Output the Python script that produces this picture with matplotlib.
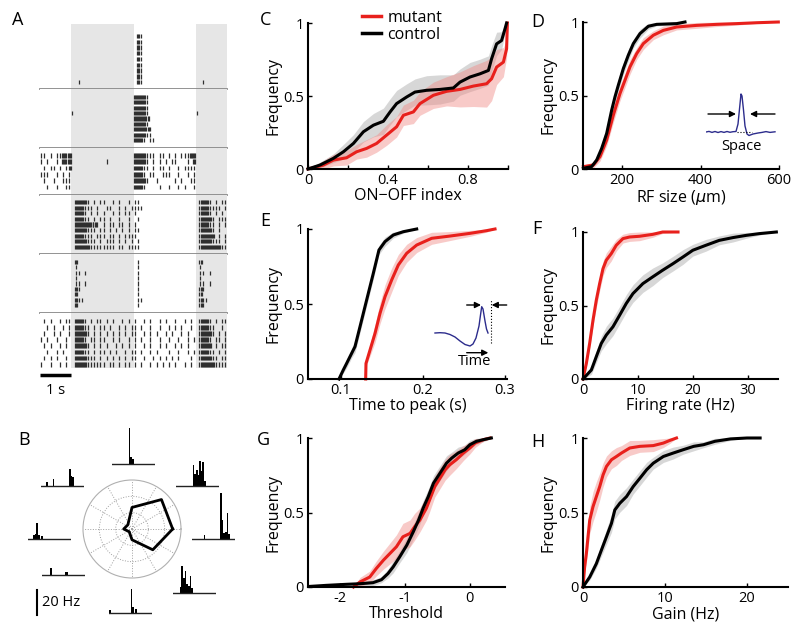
import numpy as np
import matplotlib
matplotlib.use('Agg')
import matplotlib.pyplot as plt
from matplotlib.lines import Line2D

plt.rcParams['font.family'] = ['Open Sans', 'DejaVu Sans']

W, H = 800, 637
ROJO = '#e8201c'
ROJO_BANDA = '#f08a86'
GRIS_BANDA = '#a8a8a8'

# ---------------- Panel A: rasters (bins de 0.1 s, '|' = 1 spike, '#' = ráfaga) ----------------
celda1 = [
    ".......... .......... .......... .#|....... .......... ..........",
    ".......... .......... .......... .#|....... .......... ..........",
    ".......... .......... .......... .#|....... .......... ..........",
    ".......... .......... .......... .#|....... .......... ..........",
    ".......... .......... .......... .#|....... .......... ..........",
    ".......... .......... .......... .#|....... .......... ..........",
    ".......... .......... .......... .#|....... .......... ..........",
    ".......... .......... .......... .#|....... .......... ..........",
    ".......... ..|....... .......... .#|....... .......... ..|.......",
]
celda2 = [
    ".......... .......... .......... ####|..... .......... ..........",
    ".......... .......... .......... ####|..... .......... ..........",
    ".......... .......... .......... ####|..... .......... ..........",
    ".......... |......... .......... ####|..... .......... |.........",
    ".......... .......... .......... #####..... .......... ..........",
    ".......... .......... .......... ####|..... .......... ..........",
    ".......... .......... .......... #####|.... .......... ..........",
    ".......... .......... .......... ####||.... .......... ..........",
    ".......... .......... .......... ###|.||... .......... ..........",
]
celda3 = [
    "||.|.||### .......... .......... ####|||.|| .|.|.|||## ..........",
    "|.|..|.### .......... .|........ ####|.|.|. |.||...|.# ..........",
    ".|.||.|.|# .......... .......... ###||.|.|| .|..|.|||| ..........",
    "|||..|.|.| .......... .......... ###|.||..| ||..|..|.| ..........",
    ".|..|..||| .......... .......... ####|..|.. ...|.|..|| ..........",
    "..|..|..|| .......... .......... ###|....|. .|..|.|..| ..........",
]
celda4 = [
    ".......... .####|.|.| |..|.|..|. ||........ .......... .###|.|.||",
    ".......... .###|||.|. .||..|.|.| |||....... .......... .###||||.|",
    ".......... .###|.|.|. |..|.|.||. |......... .......... .###|.|.|.",
    ".......... .###||.|.| |.|..|..|. .|........ .......... .####|.|||",
    ".......... .#######|. |.||.||.|. |......... .......... .###||.|.|",
    ".......... .####|||.| |.|.|.|.|. ||........ .......... .####|.|..",
    ".......... .###|||.|| |.||.|.||| |......... .......... .#####.|.|",
    ".......... .####|||.| .|||.|.|.| .|........ .......... .####|||.|",
    ".......... .#####|||| ||||.||.|| ||........ .......... .#######||",
]
celda5 = [
    ".......... .#........ .......... .|........ .......... .#........",
    ".......... .|........ .......... .|........ .......... .|........",
    ".......... .||.|..... .......... .|........ .......... .||.|.....",
    ".......... .|........ .......... .|........ .......... .|........",
    ".......... .||.|..... .......... .|........ .......... .||.|.....",
    ".......... .#|....... .......... .|........ .......... .#|.......",
    ".......... .#........ .......... .|........ .......... .#........",
    ".......... .#||...... .......... .||....... .......... .#||......",
    ".......... .#........ .......... .|........ .......... .#|.......",
]
celda6 = [
    ".|.|..|.|| .###|.|.|| .|.|..|.|. |..|.|..|. |..|..|.|. .###|.|.||",
    "..|.|..|.| .###||.|.| |.|..|.|.| |.|..|..|. .|.|.|..|. .###||..|.",
    ".|..|.|..| .####|.|.| .|.|.|.|.| |..|.|.|.. |.|..|.|.. .####|.|.|",
    "|.|..|..|. .###|.||.| |..|.|..|. |.|..|..|. .|..|..|.| .###|.||.|",
    ".|.|..|.|. .####|.|.| .|..|.|.|. |..|.|..|. |..|.|.|.. .####.|.||",
    "..|..|.|.. .###||.|.| |.|.|..|.| |.|..|.|.. .|..|..|.| .###||.|.|",
    ".|.|.|..|. .####|||.| .|.|.|.|.| |..|..|.|. |.|.|...|. .####||.||",
    "|..|..|.|. .####||||| |.||.|.||. |.|..|.|.| .|.|..|.|. .#####||||",
]
celdas = [celda1, celda2, celda3, celda4, celda5, celda6]
estimulo_on = [(1.0, 3.0), (5.0, 6.0)]

# ---------------- Panel B: curva de dirección y PSTH ----------------
dir_angulos = [0, 45, 90, 135, 180, 225, 270, 315]
dir_resp = [0.83, 0.85, 0.44, 0.12, 0.17, 0.08, 0.22, 0.60]

def _psth(picos):
    v = [0.0] * 26
    for k, h in picos.items():
        v[k] = h
    return v

psth_N = _psth({10: 29, 11: 6, 12: 4})
psth_NE = _psth({10: 17, 11: 10, 12: 13, 13: 9, 14: 20, 15: 12, 16: 19, 17: 4})
psth_E = _psth({7: 3, 17: 37, 18: 15, 19: 5, 20: 6, 21: 21, 22: 4})
psth_SE = _psth({4: 5, 5: 22, 6: 12, 7: 18, 8: 7, 9: 6, 10: 14, 11: 4})
psth_S = _psth({0: 2.5, 13: 19, 14: 5, 16: 3})
psth_SW = _psth({5: 5.5, 14: 2.7, 15: 2.7})
psth_W = _psth({3: 3.5, 4: 4, 5: 13, 6: 3.5, 8: 2.7})
psth_NW = _psth({3: 3.5, 7: 6, 17: 14, 18: 8, 19: 7})

# ---------------- Paneles C-H: distribuciones acumuladas ----------------
c_ctrl_x = [0, 0.06, 0.127, 0.177, 0.227, 0.277, 0.327, 0.377, 0.41, 0.443, 0.493, 0.535,
            0.593, 0.66, 0.727, 0.76, 0.81, 0.86, 0.902, 0.918, 0.943, 0.968, 0.985, 0.993]
c_ctrl_y = [0, 0.027, 0.073, 0.118, 0.175, 0.255, 0.3, 0.327, 0.39, 0.448, 0.493, 0.527,
            0.539, 0.545, 0.555, 0.595, 0.63, 0.652, 0.675, 0.755, 0.857, 0.88, 0.96, 1.0]
c_ctrl_e = [0, 0.02, 0.03, 0.05, 0.06, 0.07, 0.08, 0.09, 0.09, 0.09, 0.09, 0.09,
            0.1, 0.1, 0.09, 0.09, 0.1, 0.1, 0.1, 0.09, 0.08, 0.06, 0.03, 0]
c_mut_x = [0, 0.077, 0.127, 0.193, 0.243, 0.293, 0.343, 0.393, 0.443, 0.477, 0.527, 0.56,
           0.627, 0.693, 0.76, 0.827, 0.893, 0.918, 0.943, 0.977, 0.993, 0.997]
c_mut_y = [0, 0.027, 0.061, 0.077, 0.118, 0.141, 0.175, 0.232, 0.289, 0.368, 0.391, 0.448,
           0.505, 0.532, 0.545, 0.568, 0.584, 0.618, 0.698, 0.732, 0.823, 1.0]
c_mut_e = [0, 0.03, 0.04, 0.05, 0.05, 0.06, 0.06, 0.07, 0.07, 0.07, 0.08, 0.08,
           0.09, 0.1, 0.12, 0.14, 0.16, 0.15, 0.12, 0.1, 0.06, 0]

d_ctrl_x = [100.9, 122, 134.9, 147.6, 160.4, 173.1, 181.6, 190.1, 202.9, 215.6, 228.4,
            245.4, 266.7, 287.9, 339, 360.2]
d_ctrl_y = [0.005, 0.016, 0.061, 0.14, 0.242, 0.4, 0.491, 0.57, 0.683, 0.774, 0.853,
            0.921, 0.971, 0.984, 0.989, 1.0]
d_ctrl_e = [0, 0.01, 0.02, 0.03, 0.04, 0.04, 0.04, 0.04, 0.04, 0.04, 0.03, 0.03, 0.02, 0.01, 0.01, 0]
d_mut_x = [100.9, 126.4, 143.4, 160.4, 177.4, 194.4, 207.1, 219.9, 236.9, 253.9, 279.4,
           304.9, 338.9, 390, 441, 492, 543, 598.3]
d_mut_y = [0.016, 0.027, 0.084, 0.197, 0.367, 0.514, 0.604, 0.695, 0.785, 0.853, 0.91,
           0.943, 0.966, 0.977, 0.984, 0.989, 0.995, 1.0]
d_mut_e = [0.01, 0.02, 0.03, 0.04, 0.05, 0.05, 0.05, 0.05, 0.04, 0.04, 0.03, 0.03, 0.02,
           0.02, 0.015, 0.01, 0.005, 0]

e_ctrl_x = [0.0976, 0.1028, 0.1069, 0.113, 0.1171, 0.1232, 0.1313, 0.1394, 0.1463,
            0.1537, 0.1638, 0.176, 0.1923]
e_ctrl_y = [0, 0.06, 0.104, 0.171, 0.216, 0.349, 0.527, 0.704, 0.86, 0.916, 0.96, 0.982, 1.0]
e_ctrl_e = [0, 0.02, 0.03, 0.03, 0.04, 0.04, 0.04, 0.04, 0.03, 0.03, 0.02, 0.01, 0]
e_mut_x = [0.1301, 0.1305, 0.1354, 0.1415, 0.1476, 0.1537, 0.1618, 0.1699, 0.1801,
           0.1923, 0.2106, 0.2329, 0.2573, 0.2776, 0.2878]
e_mut_y = [0, 0.104, 0.193, 0.304, 0.438, 0.549, 0.66, 0.76, 0.838, 0.893, 0.938,
           0.953, 0.971, 0.989, 1.0]
e_mut_e = [0, 0.02, 0.04, 0.06, 0.07, 0.08, 0.08, 0.07, 0.06, 0.05, 0.04, 0.03, 0.02, 0.01, 0]

f_mut_x = [0, 0.61, 1.21, 1.82, 2.42, 3.03, 3.64, 4.24, 5.15, 6.06, 7.27, 8.48, 10.3,
           12.7, 14.5, 17.3]
f_mut_y = [0, 0.106, 0.242, 0.4, 0.536, 0.649, 0.751, 0.808, 0.853, 0.91, 0.955, 0.966,
           0.971, 0.984, 1.0, 1.0]
f_mut_e = [0, 0.02, 0.03, 0.04, 0.05, 0.05, 0.05, 0.05, 0.05, 0.04, 0.03, 0.03, 0.03,
           0.02, 0.01, 0]
f_ctrl_x = [0, 1.52, 2.42, 3.33, 4.24, 5.45, 6.67, 7.88, 9.09, 10.9, 12.7, 14.5, 16.4,
            18.2, 20, 22.4, 24.8, 27.3, 29.7, 32.1, 35.2]
f_ctrl_y = [0, 0.061, 0.152, 0.242, 0.299, 0.355, 0.434, 0.514, 0.581, 0.649, 0.695,
            0.74, 0.785, 0.83, 0.876, 0.91, 0.943, 0.962, 0.977, 0.989, 1.0]
f_ctrl_e = [0, 0.03, 0.04, 0.05, 0.06, 0.06, 0.06, 0.06, 0.06, 0.06, 0.06, 0.05, 0.05,
            0.05, 0.04, 0.04, 0.03, 0.03, 0.02, 0.01, 0]

g_ctrl_x = [-2.46, -2.21, -1.9, -1.69, -1.49, -1.36, -1.26, -1.18, -1.08, -0.97, -0.87,
            -0.79, -0.72, -0.64, -0.56, -0.46, -0.36, -0.28, -0.18, -0.08, 0, 0.1, 0.26, 0.33]
g_ctrl_y = [0.004, 0.011, 0.018, 0.022, 0.029, 0.049, 0.09, 0.135, 0.202, 0.281, 0.371,
            0.449, 0.528, 0.607, 0.697, 0.764, 0.831, 0.865, 0.899, 0.921, 0.955, 0.978, 0.994, 1.0]
g_ctrl_e = [0, 0.01, 0.01, 0.01, 0.02, 0.02, 0.03, 0.04, 0.04, 0.05, 0.05, 0.05, 0.05,
            0.05, 0.05, 0.05, 0.05, 0.04, 0.04, 0.03, 0.03, 0.02, 0.01, 0]
g_mut_x = [-1.79, -1.69, -1.54, -1.44, -1.33, -1.23, -1.13, -1.03, -0.92, -0.85, -0.77,
           -0.67, -0.62, -0.54, -0.46, -0.38, -0.31, -0.21, -0.1, 0, 0.08, 0.21, 0.31]
g_mut_y = [0, 0.034, 0.067, 0.124, 0.18, 0.225, 0.27, 0.337, 0.36, 0.404, 0.449, 0.528,
           0.584, 0.674, 0.73, 0.787, 0.82, 0.854, 0.899, 0.933, 0.966, 0.989, 1.0]
g_mut_e = [0, 0.03, 0.04, 0.05, 0.06, 0.07, 0.08, 0.09, 0.09, 0.09, 0.08, 0.08, 0.08,
           0.07, 0.07, 0.07, 0.07, 0.06, 0.05, 0.04, 0.03, 0.01, 0]

h_mut_x = [0, 0.2, 0.41, 0.61, 0.82, 1.22, 1.63, 2.04, 2.45, 2.86, 3.47, 4.08, 4.69,
           5.71, 6.94, 8.57, 9.8, 10.6, 11.4]
h_mut_y = [0, 0.135, 0.225, 0.337, 0.449, 0.539, 0.607, 0.674, 0.753, 0.809, 0.854,
           0.876, 0.899, 0.933, 0.944, 0.949, 0.966, 0.984, 1.0]
h_mut_e = [0, 0.04, 0.06, 0.08, 0.09, 0.1, 0.1, 0.09, 0.08, 0.07, 0.06, 0.06, 0.05,
           0.05, 0.04, 0.04, 0.03, 0.02, 0]
h_ctrl_x = [0, 0.82, 1.63, 2.24, 2.86, 3.47, 3.88, 4.49, 5.31, 6.12, 6.94, 7.76, 8.57,
            9.8, 11.0, 12.2, 13.5, 14.7, 16.1, 18.0, 20.0, 21.6]
h_ctrl_y = [0, 0.067, 0.157, 0.247, 0.337, 0.427, 0.517, 0.562, 0.607, 0.674, 0.73,
            0.787, 0.831, 0.876, 0.899, 0.921, 0.944, 0.955, 0.978, 0.994, 1.0, 1.0]
h_ctrl_e = [0, 0.02, 0.03, 0.04, 0.05, 0.06, 0.06, 0.06, 0.06, 0.05, 0.05, 0.05, 0.04,
            0.04, 0.04, 0.03, 0.03, 0.02, 0.02, 0.01, 0, 0]

# Insets (perfil espacial y temporal del campo receptivo)
perfil_esp_x = [0, 3, 6, 9, 12, 15, 18, 21, 24, 27, 30, 32, 34, 35, 36, 37.5, 39, 41,
                43, 47, 52, 56, 60, 64, 69]
perfil_esp_y = [0, 0.6, -0.4, 0.5, -0.5, 0.4, -0.4, 0.5, -0.3, 0.3, 0.5, 8, 28, 38, 36,
                22, 6, -2, -3.5, -2, -1, -0.4, 0.4, -0.4, 0.2]
perfil_tmp_x = [0, 5, 10, 15, 20, 25, 30, 35, 38, 41, 44, 45.5, 46.7, 48, 50, 51.5, 53]
perfil_tmp_y = [0, 0.3, 0, -1.5, -4, -8, -11.5, -13, -11, -5, 7, 18, 26.3, 24, 12, 4, 0]

# ---------------- Figura ----------------
fig = plt.figure(figsize=(W / 100, H / 100), dpi=100)


def ejes_px(l, t, r, b, **kw):
    return fig.add_axes([l / W, 1 - b / H, (r - l) / W, (b - t) / H], **kw)


def texto_px(x, y, s, **kw):
    fig.text(x / W, 1 - y / H, s, **kw)


def a_tiempos(fila):
    fila = fila.replace(' ', '')
    t = []
    for i, c in enumerate(fila):
        if c == '|':
            t.append(i * 0.1 + 0.04)
        elif c == '#':
            t += [i * 0.1 + 0.015, i * 0.1 + 0.05, i * 0.1 + 0.085]
    return t


# Panel A
limites = [24, 89, 148, 195, 254, 313, 368]
pads = [(2.1, 1.2), (1.5, 1.5), (1.2, 1.3), (1.3, 1.3), (1.5, 1.5), (1.3, 0.6)]
for k, celda in enumerate(celdas):
    ax = ejes_px(40, limites[k], 227, limites[k + 1])
    for a, b in estimulo_on:
        ax.axvspan(a, b, color='#e6e6e6', lw=0, zorder=0)
    n = len(celda)
    ax.eventplot([a_tiempos(f) for f in celda], lineoffsets=np.arange(n)[::-1],
                 linelengths=0.75, linewidths=0.9, colors='#2f2f2f')
    ax.set_xlim(0, 6)
    ax.set_ylim(-pads[k][1], n - 1 + pads[k][0])
    ax.set_xticks([])
    ax.set_yticks([])
    for s in ax.spines.values():
        s.set_visible(False)
    if k < 5:
        ax.spines['bottom'].set_visible(True)
        ax.spines['bottom'].set_color('#8a8a8a')
        ax.spines['bottom'].set_linewidth(1.3)

ax = ejes_px(40, 368, 227, 400)
ax.set_xlim(0, 6)
ax.set_ylim(0, 1)
ax.plot([0, 1], [0.78, 0.78], color='k', lw=2.5, solid_capstyle='butt')
ax.text(0.5, 0.3, '1 s', ha='center', va='center', fontsize=10.5)
ax.axis('off')

# Panel B
axp = ejes_px(83, 480, 181, 578, projection='polar')
th = np.deg2rad(dir_angulos + [dir_angulos[0]])
axp.plot(th, dir_resp + [dir_resp[0]], color='k', lw=2)
axp.set_ylim(0, 1)
axp.set_yticks([1 / 3, 2 / 3])
axp.set_yticklabels([])
axp.set_xticks(np.deg2rad(np.arange(0, 360, 30)))
axp.set_xticklabels([])
axp.grid(True, color='#a0a0a0', lw=0.7, ls=':')
axp.spines['polar'].set_color('#b0b0b0')
axp.spines['polar'].set_linewidth(0.8)

psths = [(psth_N, 112, 464), (psth_NE, 176, 486), (psth_E, 192, 539), (psth_SE, 173, 593),
         (psth_S, 109, 613), (psth_SW, 42, 575), (psth_W, 28, 539), (psth_NW, 41, 486)]
for valores, x0, base in psths:
    # 1.25 px por Hz; el eje va 2 px por debajo de la línea base
    ax = ejes_px(x0, base - 50, x0 + 43, base + 2)
    ax.bar(np.arange(len(valores)), valores, width=1.0, color='k', align='edge', lw=0)
    ax.axhline(0, color='#222222', lw=1)
    ax.set_xlim(0, len(valores))
    ax.set_ylim(-1.6, 40)
    ax.axis('off')

ax = ejes_px(30, 588, 90, 617)
ax.set_xlim(0, 60)
ax.set_ylim(0, 29)
ax.plot([7, 7], [2, 27], color='k', lw=1.5)
ax.text(12, 14, '20 Hz', va='center', ha='left', fontsize=10.5)
ax.axis('off')

# Paneles C-H
def panel_cdf(caja, xlim, xticks, xlabels, xlabel, mut, ctrl):
    ax = ejes_px(*caja)
    for (x, y, e), col, cb in [(ctrl, 'k', GRIS_BANDA), (mut, ROJO, ROJO_BANDA)]:
        x, y, e = np.array(x), np.array(y), np.array(e)
        ax.fill_between(x, np.clip(y - e, 0, 1), np.clip(y + e, 0, 1), color=cb,
                        alpha=0.45, lw=0, clip_on=False)
    ax.plot(mut[0], mut[1], color=ROJO, lw=2.2, clip_on=False)
    ax.plot(ctrl[0], ctrl[1], color='k', lw=2.2, clip_on=False)
    ax.set_xlim(*xlim)
    ax.set_ylim(0, 1)
    ax.set_xticks(xticks)
    ax.set_xticklabels(xlabels)
    ax.set_yticks([0, 0.5, 1])
    ax.set_yticklabels(['0', '0.5', '1'])
    ax.tick_params(direction='in', length=3, width=1, labelsize=10.5, pad=3)
    for s in ['top', 'right']:
        ax.spines[s].set_visible(False)
    for s in ['left', 'bottom']:
        ax.spines[s].set_linewidth(1.5)
    ax.set_xlabel(xlabel, fontsize=11.5, labelpad=0)
    ax.set_ylabel('Frequency', fontsize=11.5, labelpad=1)
    return ax


axC = panel_cdf((308, 23, 508, 169), (0, 1.0), [0, 0.2, 0.4, 0.6, 0.8, 1.0],
                ['0', '', '0.4', '', '0.8', ''], 'ON\u2212OFF index',
                (c_mut_x, c_mut_y, c_mut_e), (c_ctrl_x, c_ctrl_y, c_ctrl_e))
axC.legend([Line2D([], [], color=ROJO, lw=2.5), Line2D([], [], color='k', lw=2.5)],
           ['mutant', 'control'], loc='upper left', bbox_to_anchor=(362 / W, 1 - 10 / H),
           bbox_transform=fig.transFigure, frameon=False, fontsize=11.5, handlelength=1.2,
           handletextpad=0.4, labelspacing=0.05, borderpad=0, borderaxespad=0)

axD = panel_cdf((583, 22, 779, 169), (100, 600), [200, 400, 600], ['200', '400', '600'],
                'RF size ($\\mu$m)', (d_mut_x, d_mut_y, d_mut_e), (d_ctrl_x, d_ctrl_y, d_ctrl_e))
axE = panel_cdf((308, 229, 507, 379), (0.0598, 0.3024), [0.1, 0.2, 0.3], ['0.1', '0.2', '0.3'],
                'Time to peak (s)', (e_mut_x, e_mut_y, e_mut_e), (e_ctrl_x, e_ctrl_y, e_ctrl_e))
axF = panel_cdf((583, 232, 778, 379), (0, 35.5), [0, 10, 20, 30], ['0', '10', '20', '30'],
                'Firing rate (Hz)', (f_mut_x, f_mut_y, f_mut_e), (f_ctrl_x, f_ctrl_y, f_ctrl_e))
axG = panel_cdf((308, 438, 505, 587), (-2.49, 0.54), [-2, -1, 0], ['-2', '-1', '0'],
                'Threshold', (g_mut_x, g_mut_y, g_mut_e), (g_ctrl_x, g_ctrl_y, g_ctrl_e))
axH = panel_cdf((583, 438, 788, 587), (0, 25), [0, 10, 20], ['0', '10', '20'],
                'Gain (Hz)', (h_mut_x, h_mut_y, h_mut_e), (h_ctrl_x, h_ctrl_y, h_ctrl_e))

# Inset D (perfil espacial), coordenadas locales en píxeles
flecha = dict(arrowstyle='-|>', color='k', lw=1, mutation_scale=9, shrinkA=0, shrinkB=0)
ax = ejes_px(706, 88, 776, 152)
ax.set_xlim(0, 70)
ax.set_ylim(-20, 44)
ax.plot(perfil_esp_x, perfil_esp_y, color='#2c2c8c', lw=1)
ax.plot([30.7, 45.7], [0, 0], color='k', lw=0.8, ls=':')
ax.annotate('', xy=(30, 18), xytext=(2, 18), arrowprops=flecha)
ax.annotate('', xy=(44, 18), xytext=(69, 18), arrowprops=flecha)
ax.text(35, -14.5, 'Space', ha='center', va='center', fontsize=10.5)
ax.axis('off')

# Inset E (perfil temporal)
ax = ejes_px(432, 296, 510, 368)
ax.set_xlim(-3, 75)
ax.set_ylim(-35, 37)
ax.plot(perfil_tmp_x, perfil_tmp_y, color='#2c2c8c', lw=1)
ax.plot([56, 56], [-10, 33], color='k', lw=0.8, ls=':')
ax.annotate('', xy=(46, 28), xytext=(31.7, 28), arrowprops=flecha)
ax.annotate('', xy=(56.7, 28), xytext=(71.7, 28), arrowprops=flecha)
ax.annotate('', xy=(53.3, -19.7), xytext=(31.7, -19.7), arrowprops=flecha)
ax.text(40, -28.7, 'Time', ha='center', va='center', fontsize=10.5)
ax.axis('off')

# Letras de panel
for letra, x, y in [('A', 12, 11), ('B', 18, 431), ('C', 260, 11), ('D', 531, 13),
                    ('E', 260, 212), ('F', 532, 220), ('G', 257, 431), ('H', 531, 433)]:
    texto_px(x, y, letra, fontsize=13, ha='left', va='top')

fig.savefig('out.png', dpi=100)
